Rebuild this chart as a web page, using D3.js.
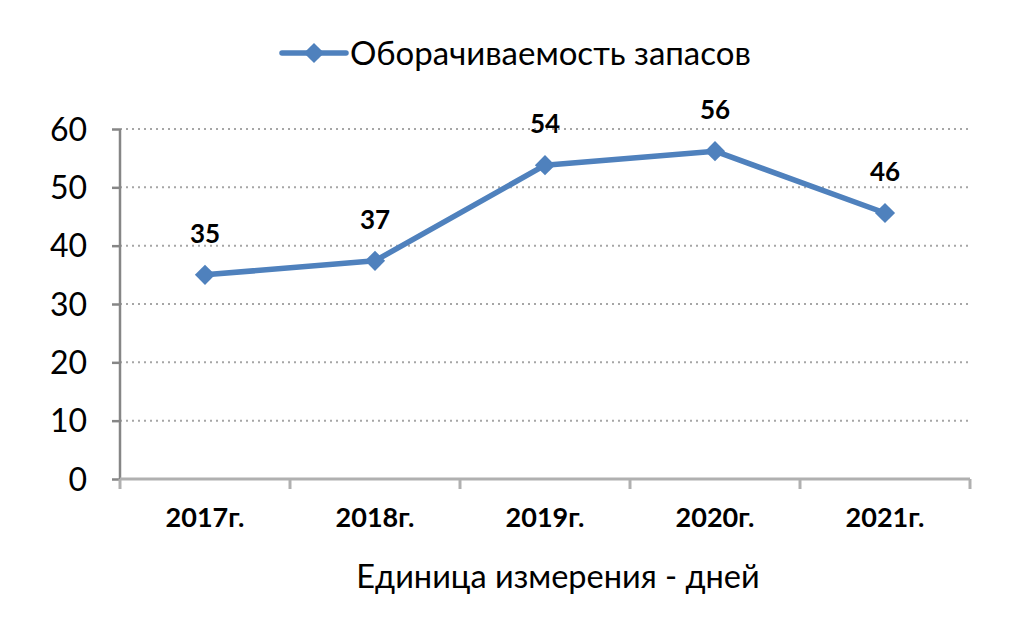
<!DOCTYPE html>
<html>
<head>
<meta charset="utf-8">
<script src="https://cdn.jsdelivr.net/npm/d3@7"></script>
<style>
  body { margin: 0; background: #fff; }
  text { font-family: Lato, "Open Sans", sans-serif; fill: #000; }
</style>
</head>
<body>
<div id="chart"></div>
<script>
var years = ["2017г.", "2018г.", "2019г.", "2020г.", "2021г."],
    values = [35.0, 37.4, 53.8, 56.2, 45.6],
    labels = ["35", "37", "54", "56", "46"],
    yTicks = [0, 10, 20, 30, 40, 50, 60];

var seriesName = "Оборачиваемость запасов",
    axisTitle = "Единица измерения - дней";

var W = 1024, H = 622,
    margin = {left: 120, top: 129, right: 54, bottom: 143},
    width = W - margin.left - margin.right,
    height = H - margin.top - margin.bottom,
    blue = "#4F81BD",
    axisGrey = "#868686";

var svg = d3.select("#chart").append("svg")
  .attr("width", W)
  .attr("height", H);

var x = d3.scaleBand().domain(years).range([0, width]);
var y = d3.scaleLinear().domain([0, 60]).range([height, 0]);

var g = svg.append("g")
  .attr("transform", "translate(" + margin.left + "," + margin.top + ")");

// gridlines
g.selectAll("line.grid")
  .data(yTicks.filter(function(d) { return d > 0; }))
  .enter().append("line")
  .attr("class", "grid")
  .attr("x1", 0).attr("x2", width)
  .attr("y1", function(d) { return y(d); })
  .attr("y2", function(d) { return y(d); })
  .attr("stroke", "#a6a6a6")
  .attr("stroke-width", 2)
  .attr("stroke-dasharray", "2,4");

// y axis
var yAxis = g.append("g")
  .call(d3.axisLeft(y).tickValues(yTicks).tickSize(8).tickPadding(25));
yAxis.select(".domain").attr("stroke", axisGrey).attr("stroke-width", 2.5)
  .attr("d", "M0," + height + "V0");
yAxis.selectAll(".tick line").attr("stroke", axisGrey).attr("stroke-width", 2.5);
yAxis.selectAll(".tick text").style("font-size", "32px").attr("dy", "0.35em");

// x axis
var xAxis = g.append("g")
  .attr("transform", "translate(0," + height + ")")
  .call(d3.axisBottom(x).tickSize(0).tickPadding(29));
xAxis.select(".domain").attr("stroke", "#b0b0b0").attr("stroke-width", 3)
  .attr("d", "M0,0H" + width);
xAxis.selectAll(".tick text").style("font-size", "27px").style("font-weight", "bold");
xAxis.selectAll("line.xt")
  .data(d3.range(years.length + 1))
  .enter().append("line")
  .attr("class", "xt")
  .attr("x1", function(i) { return i * x.bandwidth(); })
  .attr("x2", function(i) { return i * x.bandwidth(); })
  .attr("y1", 0).attr("y2", 10)
  .attr("stroke", "#b0b0b0").attr("stroke-width", 3);

// line
var cx = function(d, i) { return x(years[i]) + x.bandwidth() / 2; };
var line = d3.line()
  .x(cx)
  .y(function(d) { return y(d); });

g.append("path")
  .datum(values)
  .attr("d", line)
  .attr("fill", "none")
  .attr("stroke", blue)
  .attr("stroke-width", 5.5)
  .attr("stroke-linejoin", "round");

var diamond = d3.symbol().type(d3.symbolDiamond2).size(260);
g.selectAll("path.pt")
  .data(values)
  .enter().append("path")
  .attr("class", "pt")
  .attr("d", diamond)
  .attr("transform", function(d, i) { return "translate(" + cx(d, i) + "," + y(d) + ")"; })
  .attr("fill", blue);

// data labels
g.selectAll("text.lbl")
  .data(values)
  .enter().append("text")
  .attr("class", "lbl")
  .attr("x", cx)
  .attr("y", function(d) { return y(d) - 41; })
  .attr("dy", "0.35em")
  .attr("text-anchor", "middle")
  .style("font-size", "26px")
  .style("font-weight", "bold")
  .text(function(d, i) { return labels[i]; });

// legend
var lg = svg.append("g").attr("transform", "translate(282,53)");
lg.append("line").attr("x1", 0).attr("x2", 64)
  .attr("stroke", blue).attr("stroke-width", 5.5).attr("stroke-linecap", "round");
lg.append("path").attr("d", diamond).attr("transform", "translate(32,0)").attr("fill", blue);
lg.append("text").attr("x", 68).attr("dy", "0.35em")
  .style("font-size", "33px").text(seriesName);

// axis title
svg.append("text")
  .attr("x", 558).attr("y", 577)
  .attr("dy", "0.35em")
  .attr("text-anchor", "middle")
  .style("font-size", "32.5px")
  .text(axisTitle);
</script>
</body>
</html>
